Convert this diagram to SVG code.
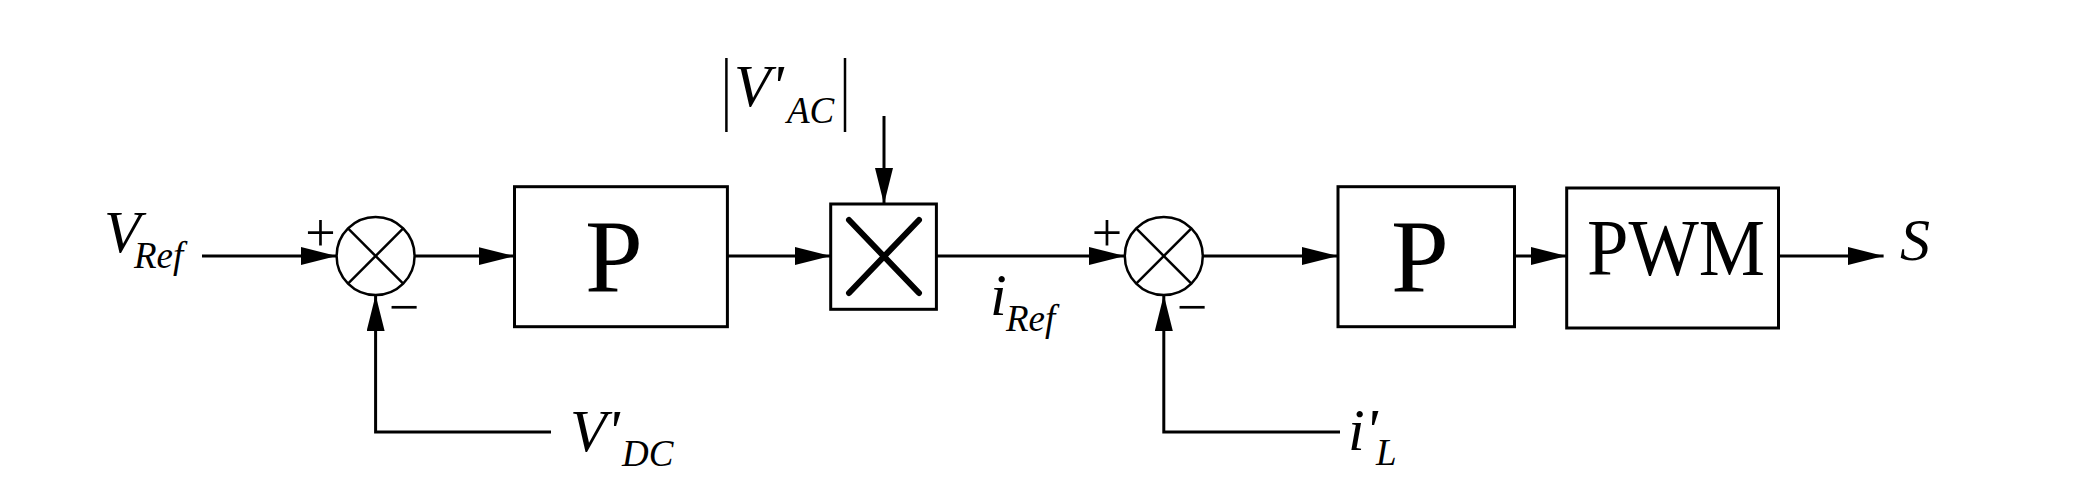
<svg xmlns="http://www.w3.org/2000/svg" width="2097" height="485" viewBox="0 0 2097 485">
<style>
.ln{fill:none;stroke:#000;stroke-width:2.5}
.arr{fill:none;stroke:#000;stroke-width:3;marker-end:url(#ah)}
.box{fill:#fff;stroke:#000;stroke-width:3}
.sum{fill:#fff;stroke:#000;stroke-width:2.5}
.x{stroke:#000;stroke-width:2.5}
.mx{stroke:#000;stroke-width:6;stroke-linecap:round}
.t{font-family:"Liberation Serif","Times New Roman",serif;fill:#000}
.it{font-style:italic}
.big{font-size:60px}
.sub{font-size:37px}
.sg{font-size:54px}
</style>
<defs>
<marker id="ah" viewBox="0 0 36 18" refX="36" refY="9" markerWidth="36" markerHeight="18" markerUnits="userSpaceOnUse" orient="auto">
<path d="M0,0 L36,9 L0,18 Z" fill="#000"/>
</marker>
</defs>
<rect width="2097" height="485" fill="#fff"/>
<g id="connectors">
<path class="arr" d="M202,256 L336.6,256"/>
<path class="arr" d="M414.6,256 L514.5,256"/>
<path class="arr" d="M727.4,256 L830.7,256"/>
<path class="arr" d="M884,116 L884,204"/>
<path class="arr" d="M936.4,256 L1124.8,256"/>
<path class="arr" d="M1202.8,256 L1338,256"/>
<path class="arr" d="M1514.5,256 L1566.7,256"/>
<path class="arr" d="M1778.5,256 L1883.6,256"/>
<path class="arr" d="M551,432 L375.6,432 L375.6,295"/>
<path class="arr" d="M1340,432 L1163.8,432 L1163.8,295"/>
</g>
<g id="vref">
<text class="t it big" x="104" y="252">V</text>
<text class="t it sub" x="134" y="268">Ref</text>
</g>
<g id="sum1">
<circle class="sum" cx="375.6" cy="256" r="39"/>
<line class="x" x1="348" y1="228.4" x2="403.2" y2="283.6"/>
<line class="x" x1="348" y1="283.6" x2="403.2" y2="228.4"/>
<text class="t sg" x="320.5" y="251" text-anchor="middle">+</text>
<text class="t sg" x="404" y="325" text-anchor="middle">−</text>
</g>
<g id="p1">
<rect class="box" x="514.5" y="186.7" width="212.9" height="140"/>
<text class="t" x="614" y="292" font-size="104" text-anchor="middle">P</text>
</g>
<g id="vdc">
<text class="t it big" x="570" y="451">V'</text>
<text class="t it sub" x="622" y="466">DC</text>
</g>
<g id="mult">
<rect class="box" x="830.7" y="204" width="105.7" height="105.3"/>
<line class="mx" x1="849" y1="220" x2="919" y2="293"/>
<line class="mx" x1="849" y1="293" x2="919" y2="220"/>
</g>
<g id="vac">
<line class="ln" x1="726.4" y1="58" x2="726.4" y2="132"/>
<line class="ln" x1="845" y1="58" x2="845" y2="132"/>
<text class="t it big" x="734" y="106">V'</text>
<text class="t it sub" x="787" y="123">AC</text>
</g>
<g id="iref">
<text class="t it big" x="990" y="315">i</text>
<text class="t it sub" x="1006" y="331">Ref</text>
</g>
<g id="sum2">
<circle class="sum" cx="1163.8" cy="256" r="39"/>
<line class="x" x1="1136.2" y1="228.4" x2="1191.4" y2="283.6"/>
<line class="x" x1="1136.2" y1="283.6" x2="1191.4" y2="228.4"/>
<text class="t sg" x="1107" y="251" text-anchor="middle">+</text>
<text class="t sg" x="1192" y="325" text-anchor="middle">−</text>
</g>
<g id="il">
<text class="t it big" x="1348" y="450">i'</text>
<text class="t it sub" x="1376" y="465">L</text>
</g>
<g id="p2">
<rect class="box" x="1338" y="186.7" width="176.5" height="140"/>
<text class="t" x="1420" y="292" font-size="104" text-anchor="middle">P</text>
</g>
<g id="pwm">
<rect class="box" x="1566.7" y="188" width="211.8" height="140"/>
<text class="t" x="1676" y="275" font-size="80" text-anchor="middle" textLength="178" lengthAdjust="spacingAndGlyphs">PWM</text>
</g>
<g id="s">
<text class="t it big" x="1900" y="260">S</text>
</g>
</svg>
